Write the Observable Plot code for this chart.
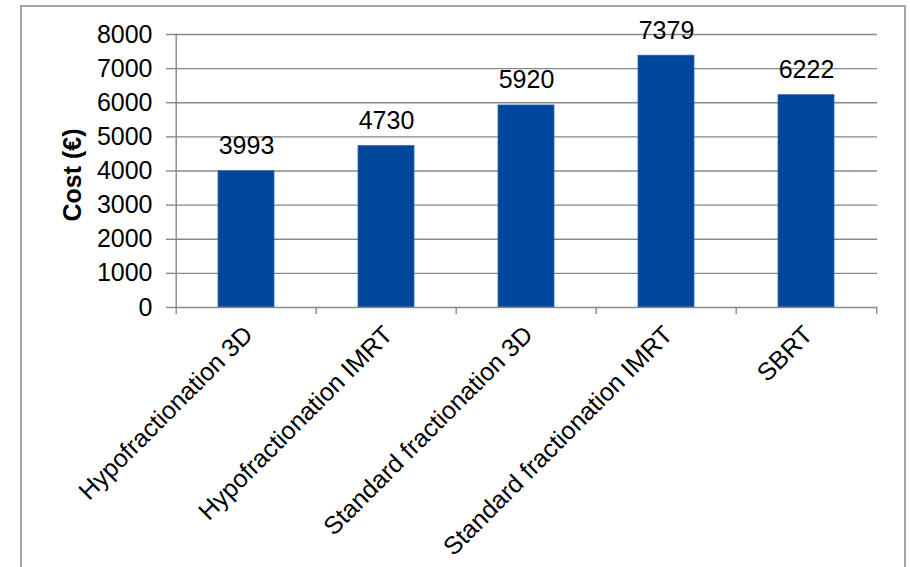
<!DOCTYPE html>
<html>
<head>
<meta charset="utf-8">
<script src="https://cdn.jsdelivr.net/npm/d3@7"></script>
<script src="https://cdn.jsdelivr.net/npm/@observablehq/plot@0.6"></script>
<style>
  html, body { margin: 0; padding: 0; background: #fff; }
  #wrap { position: relative; width: 910px; height: 567px; overflow: hidden; }
  #wrap svg { position: absolute; left: 0; top: 0; }
  #border { position: absolute; left: 20px; top: 5px; width: 886px; height: 600px;
            border: 2px solid #a6a6a6; box-sizing: border-box; pointer-events: none; }
</style>
</head>
<body>
<div id="wrap"><div id="border"></div></div>
<script>
// Treatment schemes and their cost in euros
const treatments = [
  "Hypofractionation 3D",
  "Hypofractionation IMRT",
  "Standard fractionation 3D",
  "Standard fractionation IMRT",
  "SBRT"
];
const costs = [3993, 4730, 5920, 7379, 6222];
const yTicks = [0, 1000, 2000, 3000, 4000, 5000, 6000, 7000, 8000];

const data = treatments.map((t, i) => ({treatment: t, cost: costs[i]}));

const W = 910, H = 567;
const margin = {left: 174, right: 33, top: 34, bottom: 260};
const paddingInner = 0.6, paddingOuter = 0.3;
// band step, used to put the category ticks between the bars
const step = (W - margin.left - margin.right) / (treatments.length - paddingInner + 2 * paddingOuter);

const grey = "#888888";
const barColor = "#00469a";
const fs = 25;

const chart = Plot.plot({
  width: W,
  height: H,
  marginLeft: margin.left,
  marginRight: margin.right,
  marginTop: margin.top,
  marginBottom: margin.bottom,
  style: {fontFamily: "'Liberation Sans', Arial, sans-serif", fontSize: fs + "px", color: "#000", background: "transparent"},
  x: {type: "band", domain: treatments, paddingInner, paddingOuter, align: 0.5, axis: null},
  y: {type: "linear", domain: [0, 8000], axis: null},
  marks: [
    // horizontal gridlines
    Plot.ruleY(yTicks.filter(d => d > 0), {stroke: grey, strokeWidth: 1.4}),
    // bars
    Plot.barY(data, {x: "treatment", y: "cost", fill: barColor, stroke: "#2f66ad", strokeWidth: 0.8}),
    // value labels
    Plot.text(data, {x: "treatment", y: "cost", text: d => String(d.cost), lineAnchor: "bottom", dy: -17,
                     fontSize: fs, fill: "#000"}),
    // y axis line
    Plot.ruleX([treatments[0]], {x: d => d, dx: -step / 2, y1: 0, y2: 8000, stroke: grey, strokeWidth: 1.4}),
    // y axis ticks and labels
    Plot.axisY({ticks: yTicks, tickSize: 8, tickPadding: 14, tickFormat: d => String(d), fontSize: fs,
                stroke: grey, strokeWidth: 1.4, label: null}),
    // x axis baseline
    Plot.ruleY([0], {stroke: grey, strokeWidth: 1.4}),
    // category separator ticks below the baseline
    Plot.ruleX(treatments, {x: d => d, dx: -step / 2, y1: 0, y2: 0, insetBottom: -7, stroke: grey, strokeWidth: 1.4}),
    Plot.ruleX([treatments[treatments.length - 1]], {x: d => d, dx: step / 2, y1: 0, y2: 0, insetBottom: -7,
                                                    stroke: grey, strokeWidth: 1.4}),
    // rotated category labels
    Plot.text(treatments, {x: d => d, frameAnchor: "bottom", rotate: -45, textAnchor: "end", lineAnchor: "middle",
                           dx: 2, dy: 23, fontSize: fs, fill: "#000"}),
    // y axis title
    Plot.text(["Cost (€)"], {frameAnchor: "left", rotate: -90, textAnchor: "middle", lineAnchor: "middle",
                             dx: -102, dy: 4, fontSize: 25, fontWeight: "bold", fill: "#000"})
  ]
});

document.getElementById("wrap").prepend(chart);
</script>
</body>
</html>
